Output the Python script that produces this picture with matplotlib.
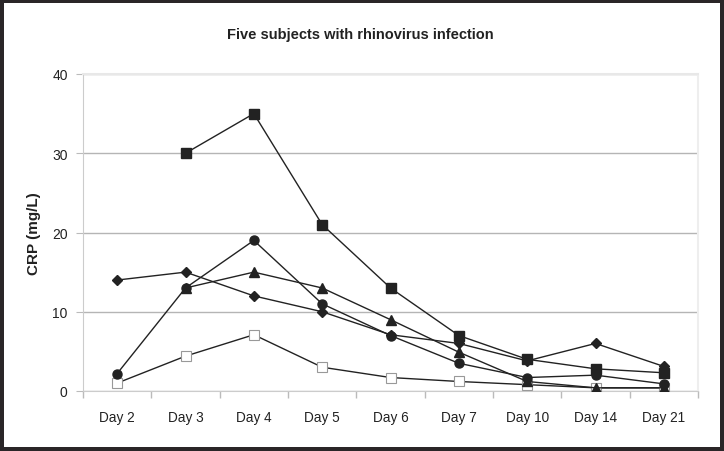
import matplotlib
matplotlib.use("Agg")
import matplotlib.pyplot as plt
import numpy as np
from matplotlib.patches import Rectangle

days = ["Day 2", "Day 3", "Day 4", "Day 5", "Day 6", "Day 7", "Day 10", "Day 14", "Day 21"]
subj_square = [np.nan, 30, 35, 21, 13, 7, 4.0, 2.8, 2.3]
subj_diamond = [14, 15, 12, 10, 7.1, 6.0, 3.8, 6.0, 3.1]
subj_triangle = [np.nan, 13, 15, 13, 9.0, 4.9, 1.2, 0.4, 0.4]
subj_circle = [2.2, 13, 19, 11, 7.0, 3.5, 1.7, 2.0, 0.9]
subj_open = [1.0, 4.4, 7.1, 3.0, 1.7, 1.2, 0.8, 0.4, 0.4]

plt.rcParams['font.family'] = ['Liberation Sans', 'DejaVu Sans']

fig = plt.figure(figsize=(7.24, 4.52), dpi=100)
fig.patch.set_facecolor('#2a2628')
fig.patches.append(Rectangle((4/724, 4/452), 716/724, 444/452, transform=fig.transFigure,
                             facecolor='white', edgecolor='none', zorder=-10))

ax = fig.add_axes([83/724, 1-392/452, 615/724, 317/452])
ax.set_facecolor('white')
x = np.arange(len(days))
lc = '#222222'
ax.plot(x, subj_open, color=lc, lw=1, marker='s', ms=6.5, mfc='white', mec='#999999', mew=0.8, zorder=3)
ax.plot(x, subj_triangle, color=lc, lw=1, marker='^', ms=6.5, mfc=lc, mec=lc, zorder=3)
ax.plot(x, subj_diamond, color=lc, lw=1, marker='D', ms=5, mfc=lc, mec=lc, zorder=3)
ax.plot(x, subj_circle, color=lc, lw=1, marker='o', ms=6.5, mfc=lc, mec=lc, zorder=4)
ax.plot(x, subj_square, color=lc, lw=1, marker='s', ms=6.5, mfc=lc, mec=lc, zorder=5)

ax.set_xlim(-0.5, len(days)-0.5)
ax.set_ylim(0, 40)
ax.set_yticks([0, 10, 20, 30, 40])
ax.set_xticks(x)
ax.set_xticklabels(days)
ax.set_xticks(np.arange(-0.5, len(days)), minor=True)
ax.tick_params(axis='x', which='major', length=0, pad=14, labelsize=9.8, colors='#222222')
ax.tick_params(axis='x', which='minor', length=5, color='#bbbbbb', width=1)
ax.tick_params(axis='y', length=5, color='#bbbbbb', labelsize=10, pad=6, labelcolor='#222222')
ax.yaxis.grid(True, color='#b5b5b5', lw=1)
ax.set_axisbelow(True)
for s in ['left', 'bottom']:
    ax.spines[s].set_color('#cccccc')
ax.spines['right'].set_color('#eeeeee')
ax.spines['top'].set_color('#e8e8e8')
ax.spines['top'].set_linewidth(1.5)
ax.spines['right'].set_linewidth(1.5)

ax.set_ylabel('CRP (mg/L)', fontsize=11, fontweight='bold', color='#222222', labelpad=8)
fig.text(360/724, 1-35/452, 'Five subjects with rhinovirus infection', ha='center', va='center',
         fontsize=10.5, fontweight='bold', color='#222222')

fig.savefig('out.png', dpi=100, facecolor=fig.get_facecolor())
